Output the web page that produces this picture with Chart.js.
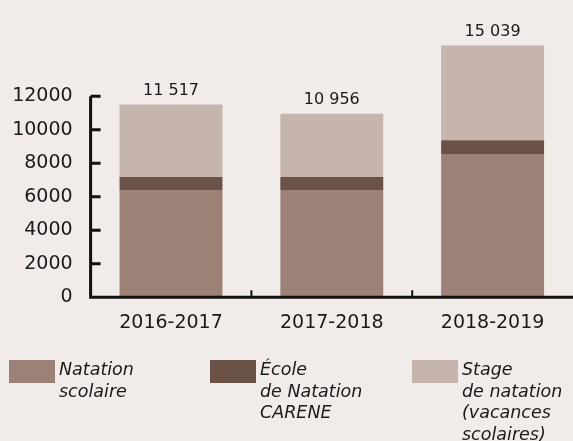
<!DOCTYPE html>
<html lang="fr">
<head>
<meta charset="utf-8">
<title>Natation</title>
<script src="https://cdn.jsdelivr.net/npm/chart.js@4.4.0/dist/chart.umd.min.js"></script>
<style>
  html, body { margin: 0; padding: 0; background: #f1ece9; }
  #chart { display: block; }
</style>
</head>
<body>
<canvas id="chart" width="573" height="441"></canvas>
<script>
/* globals Chart:false */

// data
const seasons = ["2016-2017", "2017-2018", "2018-2019"];
const natationScolaire = [6400, 6400, 8550];
const ecoleNatation = [775, 775, 830];
const stageNatation = [4342, 3781, 5659];
const yTicks = [0, 2000, 4000, 6000, 8000, 10000, 12000];

const seriesLabels = [
  ["Natation", "scolaire"],
  ["École", "de Natation", "CARENE"],
  ["Stage", "de natation", "(vacances", "scolaires)"],
];
const seriesColors = ["#9c8276", "#6b5246", "#c6b5ac"];

(() => {
  "use strict";

  const font = "'DejaVu Sans', sans-serif";
  const ink = "#1a1a1a";

  function fmt(n) {
    return String(n).replace(/\B(?=(\d{3})+(?!\d))/g, " ");
  }

  // axes drawn by hand: short y axis (0..12000) with inner ticks, x ticks between bars
  const axesPlugin = {
    id: "axes",
    afterDatasetsDraw(chart) {
      const c = chart.ctx;
      const y = chart.scales.y;
      const x = chart.scales.x;
      const left = chart.chartArea.left;
      const y0 = y.getPixelForValue(0);
      const yTop = y.getPixelForValue(yTicks[yTicks.length - 1]);
      c.save();
      c.strokeStyle = "#111";
      c.lineWidth = 3;
      c.beginPath();
      c.moveTo(left, yTop);
      c.lineTo(left, y0);
      c.moveTo(left - 1.5, y0);
      c.lineTo(chart.width, y0);
      for (const v of yTicks) {
        const py = y.getPixelForValue(v);
        c.moveTo(left, py);
        c.lineTo(left + 10, py);
      }
      c.stroke();
      c.lineWidth = 2;
      c.beginPath();
      for (let i = 0; i < seasons.length - 1; i++) {
        const px = (x.getPixelForTick(i) + x.getPixelForTick(i + 1)) / 2;
        c.moveTo(px, y0);
        c.lineTo(px, y0 - 7);
      }
      c.stroke();

      // totals above each bar
      const top = chart.getDatasetMeta(chart.data.datasets.length - 1);
      c.fillStyle = ink;
      c.font = "16px " + font;
      c.textAlign = "center";
      c.textBaseline = "middle";
      top.data.forEach((bar, i) => {
        const total = chart.data.datasets.reduce((s, d) => s + d.data[i], 0);
        c.fillText(fmt(total), bar.x, bar.y - 14);
      });
      c.restore();
    },
  };

  // legend with multi-line italic labels
  const legendPlugin = {
    id: "customLegend",
    afterDraw(chart) {
      const c = chart.ctx;
      const xs = [9, 210, 412];
      const boxY = 360;
      c.save();
      c.font = "oblique 17.5px " + font;
      c.textAlign = "left";
      c.textBaseline = "middle";
      chart.data.datasets.forEach((ds, i) => {
        c.fillStyle = ds.backgroundColor;
        c.fillRect(xs[i], boxY, 46, 23);
        c.fillStyle = ink;
        seriesLabels[i].forEach((line, j) => {
          c.fillText(line, xs[i] + 50, 370.5 + j * 21.6);
        });
      });
      c.restore();
    },
  };

  const ctx = document.getElementById("chart");
  // eslint-disable-next-line no-unused-vars
  const myChart = new Chart(ctx, {
    type: "bar",
    data: {
      labels: seasons,
      datasets: [natationScolaire, ecoleNatation, stageNatation].map(
        (data, i) => ({
          label: seriesLabels[i].join(" "),
          data: data,
          backgroundColor: seriesColors[i],
          borderWidth: 0,
          barPercentage: 0.64,
          categoryPercentage: 1,
        })
      ),
    },
    options: {
      responsive: false,
      animation: false,
      layout: {
        padding: { top: 24, left: 12, right: 0, bottom: 93 },
      },
      plugins: {
        legend: { display: false },
        tooltip: { enabled: false },
      },
      scales: {
        x: {
          stacked: true,
          grid: { display: false, drawTicks: false },
          border: { display: false },
          ticks: {
            padding: 14,
            color: ink,
            font: { family: font, size: 19 },
          },
        },
        y: {
          stacked: true,
          min: 0,
          max: 16000,
          grid: { display: false, drawTicks: false },
          border: { display: false },
          afterBuildTicks(scale) {
            scale.ticks = yTicks.map((v) => ({ value: v }));
          },
          afterFit(scale) {
            scale.width = 78.6;
          },
          ticks: {
            padding: 18,
            color: ink,
            font: { family: font, size: 19 },
            callback: (v) => String(v),
          },
        },
      },
    },
    plugins: [axesPlugin, legendPlugin],
  });
})();
</script>
</body>
</html>
